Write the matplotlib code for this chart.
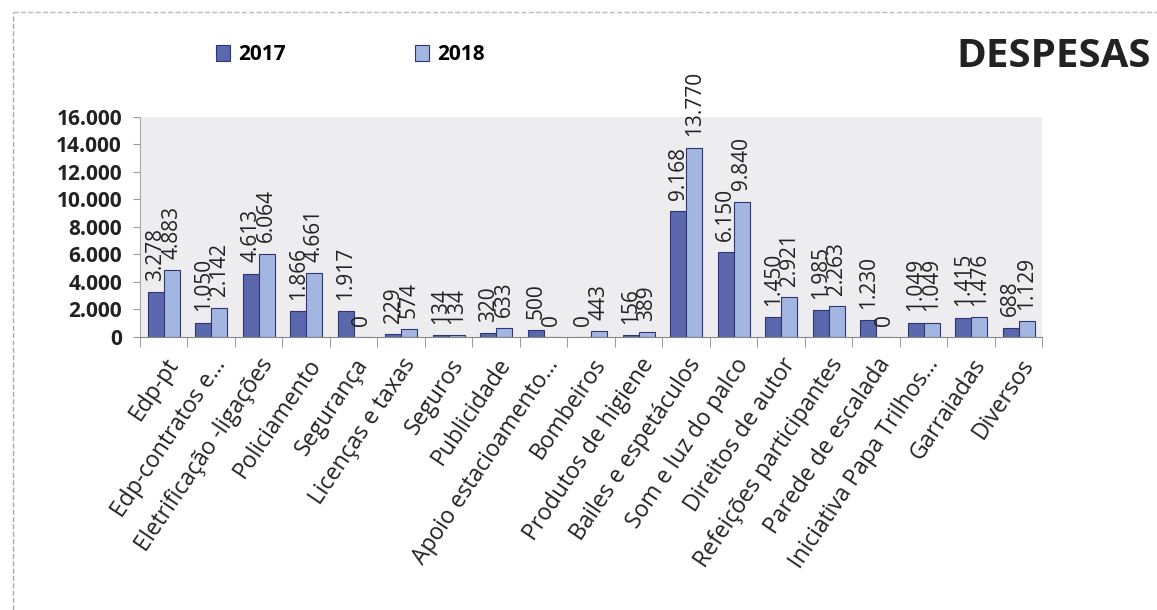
import numpy as np
import matplotlib
matplotlib.use('Agg')
import matplotlib.pyplot as plt

categorias = ['Edp-pt', 'Edp-contratos e...', 'Eletrificação -ligações', 'Policiamento',
              'Segurança', 'Licenças e taxas', 'Seguros', 'Publicidade',
              'Apoio estacioamento...', 'Bombeiros', 'Produtos de higiene',
              'Bailes e espetáculos', 'Som e luz do palco', 'Direitos de autor',
              'Refeições participantes', 'Parede de escalada', 'Iniciativa Papa Trilhos...',
              'Garraiadas', 'Diversos']
v2017 = [3278, 1050, 4613, 1866, 1917, 229, 134, 320, 500, 0, 156,
         9168, 6150, 1450, 1985, 1230, 1049, 1415, 688]
v2018 = [4883, 2142, 6064, 4661, 0, 574, 134, 633, 0, 443, 389,
         13770, 9840, 2921, 2263, 0, 1049, 1476, 1129]
yticks = [0, 2000, 4000, 6000, 8000, 10000, 12000, 14000, 16000]

plt.rcParams['font.family'] = ['Open Sans', 'DejaVu Sans']

def fmt(v):
    return '{:,}'.format(v).replace(',', '.')

fig = plt.figure(figsize=(11.57, 6.1), dpi=100)
ax = fig.add_axes([0.121, 0.4475, 0.78, 0.361])
ax.set_facecolor('#ededf0')

x = np.arange(len(categorias))
w = 0.34
b1 = ax.bar(x - w/2, v2017, w, color='#5c68ad', edgecolor='#2e3570', linewidth=0.8, label='2017')
b2 = ax.bar(x + w/2, v2018, w, color='#a3b6e2', edgecolor='#2e3570', linewidth=0.8, label='2018')

for bars, vals in ((b1, v2017), (b2, v2018)):
    for r, v in zip(bars, vals):
        ax.annotate(fmt(v), (r.get_x() + r.get_width()/2, v), xytext=(0, 8),
                    textcoords='offset points', rotation=90, ha='center', va='bottom',
                    fontsize=15, color='#222222')

ax.set_xlim(-0.5, len(categorias) - 0.5)
ax.set_ylim(0, 16000)
ax.set_yticks(yticks)
ax.set_yticklabels([fmt(t) for t in yticks], fontsize=15, fontweight='bold', color='#222222')
ax.set_xticks(x)
ax.set_xticklabels(categorias, rotation=56, ha='right', rotation_mode='anchor',
                   fontsize=16.5, color='#222222')
ax.set_xticks(np.arange(len(categorias) + 1) - 0.5, minor=True)
ax.tick_params(axis='x', which='major', length=0, pad=12)
ax.tick_params(axis='x', which='minor', length=7, color='#888888', direction='out')
ax.tick_params(axis='y', length=5, color='#999999', pad=8)
for s in ['top', 'right']:
    ax.spines[s].set_visible(False)
ax.spines['left'].set_color('#aaaaaa')
ax.spines['bottom'].set_color('#888888')

fig.legend(handles=[b1, b2], loc='center', bbox_to_anchor=(0.303, 0.91), ncol=2,
           frameon=False, columnspacing=6.2, handlelength=0.65,
           handleheight=0.8, handletextpad=0.4, prop={'weight': 'bold', 'size': 15})
fig.text(0.995, 0.907, 'DESPESAS', ha='right', va='center', fontsize=29,
         fontweight='bold', color='#222222')
fig.add_artist(plt.Line2D([0.011, 0.011], [0.0, 0.98], color='#aaaaaa', lw=1,
                          linestyle='--', transform=fig.transFigure))
fig.add_artist(plt.Line2D([0.011, 1.0], [0.98, 0.98], color='#bbbbbb', lw=1,
                          linestyle='--', transform=fig.transFigure))

fig.savefig('out.png', dpi=100)
